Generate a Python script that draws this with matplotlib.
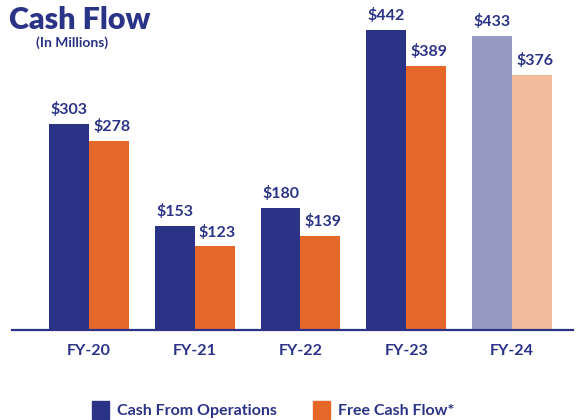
import matplotlib
matplotlib.use("Agg")
import matplotlib.pyplot as plt
from matplotlib.patches import Rectangle

plt.rcParams['font.family'] = ['Lato', 'DejaVu Sans']

categories = ["FY-20", "FY-21", "FY-22", "FY-23", "FY-24"]
cash_ops = [303, 153, 180, 442, 433]
free_cf = [278, 123, 139, 389, 376]
series_names = ["Cash From Operations", "Free Cash Flow*"]

NAVY = "#2b3386"
ORANGE = "#e5682a"
NAVY_LIGHT = "#959bc2"
ORANGE_LIGHT = "#f2bb9b"

fig = plt.figure(figsize=(5.76, 4.2), dpi=100)
ax = fig.add_axes([12/576, 90/420, 561/576, 330/420])

x = list(range(len(categories)))
w = 0.378
ops_colors = [NAVY] * (len(categories) - 1) + [NAVY_LIGHT]
fcf_colors = [ORANGE] * (len(categories) - 1) + [ORANGE_LIGHT]

b1 = ax.bar([i - w/2 for i in x], cash_ops, width=w, color=ops_colors, zorder=2)
b2 = ax.bar([i + w/2 for i in x], free_cf, width=w, color=fcf_colors, zorder=2)

for rect, v in zip(b1, cash_ops):
    ax.annotate(f"${v}", (rect.get_x() + rect.get_width()/2, v), xytext=(0, 5),
                textcoords="offset points", ha="center", va="bottom",
                fontsize=11.5, fontweight="bold", color=NAVY)
for rect, v in zip(b2, free_cf):
    ax.annotate(f"${v}", (rect.get_x() + rect.get_width()/2, v), xytext=(2, 5),
                textcoords="offset points", ha="center", va="bottom",
                fontsize=11.5, fontweight="bold", color=NAVY)

ax.set_xlim(-0.728, 4.577)
ax.set_ylim(0, 486)
ax.set_xticks(x)
ax.set_xticklabels(categories, fontsize=11.5, fontweight="bold", color=NAVY)
ax.tick_params(axis="x", length=0, pad=10)
ax.set_yticks([])
for s in ["top", "right", "left"]:
    ax.spines[s].set_visible(False)
ax.spines["bottom"].set_color(NAVY)
ax.spines["bottom"].set_linewidth(1.6)
ax.spines["bottom"].set_zorder(3)
ax.patch.set_alpha(0)

fig.text(9/576, 1 - 20/420, "Cash Flow", fontsize=22, fontweight="heavy",
         color=NAVY, va="center", ha="left")
fig.text(36/576, 1 - 43/420, "(In Millions)", fontsize=10, fontweight="bold",
         color=NAVY, va="center", ha="left")

# legend
handles = [Rectangle((0, 0), 1, 1, color=NAVY), Rectangle((0, 0), 1, 1, color=ORANGE)]
fig.legend(handles, series_names, loc="center", bbox_to_anchor=(273/576, 1 - 410/420),
           ncol=2, frameon=False, labelcolor=NAVY,
           prop={"weight": "bold", "size": 11.5}, handlelength=1.05, handleheight=1.3,
           handletextpad=0.5, columnspacing=2.3)

fig.savefig("out.png", dpi=100)
